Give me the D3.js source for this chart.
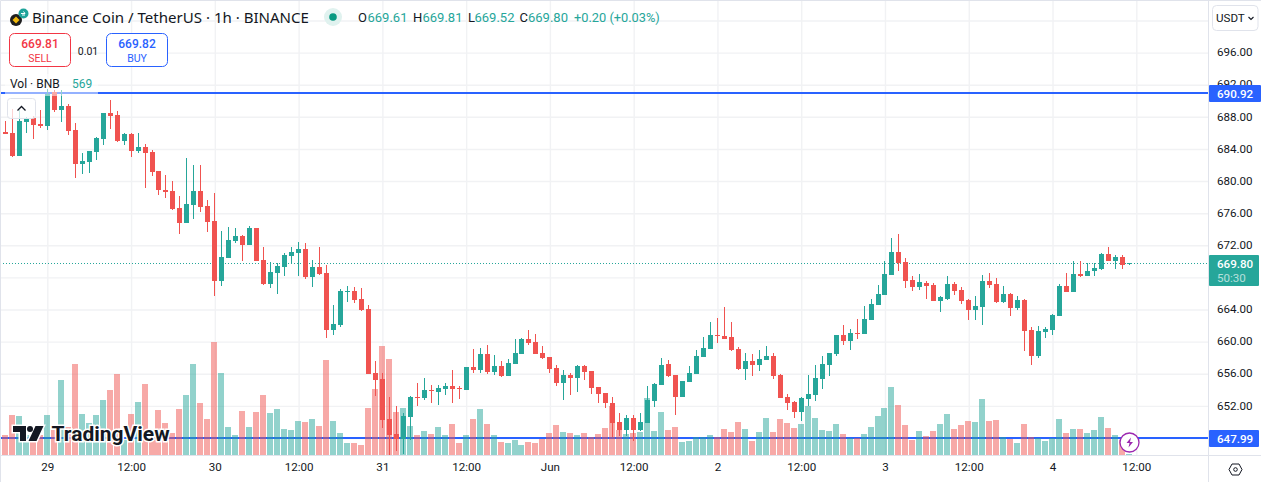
<!DOCTYPE html>
<html>
<head>
<meta charset="utf-8">
<script src="https://cdn.jsdelivr.net/npm/d3@7"></script>
<style>
  html, body { margin: 0; padding: 0; background: #fff; overflow: hidden; }
  svg { display: block; font-family: Roboto, "Noto Sans", sans-serif; }
  .axis .domain { display: none; }
  .axis text { fill: #131722; font-size: 11.6px; font-family: Roboto, "Noto Sans", sans-serif; }
  .grid .domain, .grid text { display: none; }
  .grid line { stroke: #f1f2f4; stroke-width: 1.4; }
</style>
</head>
<body>
<div id="chart"></div>
<script>
// hours counted from 29 May 00:00, one candle per hour
const hours = d3.range(-6, 156);

const open = [
  686.1, 686.0, 683.1, 687.4, 687.85, 687.1, 686.9, 691.1, 688.85, 689.35, 686.35, 682.1,
  682.35, 683.6, 685.25, 688.5, 688.2, 685.0, 685.85, 683.75, 684.25, 683.6, 681.25, 678.9,
  678.75, 676.65, 674.8, 677.0, 678.75, 676.9, 675.0, 667.55, 670.4, 672.55, 673.15, 672.05,
  674.15, 670.15, 667.2, 668.55, 669.3, 670.7, 671.05, 671.55, 668.05, 669.3, 668.55, 661.45,
  662.1, 666.2, 666.3, 665.3, 664.05, 656.1, 655.35, 650.4, 648.5, 647.9, 650.6, 653.1,
  653.0, 654.0, 653.75, 654.1, 654.5, 654.25, 654.0, 656.85, 656.45, 658.45, 656.25, 657.0,
  655.75, 657.2, 658.45, 660.35, 659.95, 658.6, 658.1, 656.75, 654.85, 655.85, 655.5, 657.0,
  656.35, 654.35, 653.6, 652.35, 650.0, 649.0, 650.5, 649.0, 649.9, 652.6, 654.6, 657.2,
  655.85, 653.1, 655.0, 655.95, 658.1, 659.1, 660.85, 660.7, 660.6, 659.1, 656.6, 657.6,
  657.1, 657.7, 658.2, 655.85, 653.1, 652.5, 651.25, 652.85, 653.35, 655.35, 657.1, 658.45,
  660.85, 660.1, 661.1, 660.95, 662.7, 664.55, 665.8, 668.3, 671.15, 669.9, 667.7, 666.8,
  667.3, 667.05, 665.05, 665.3, 667.2, 666.45, 665.2, 663.95, 664.3, 667.55, 667.2, 664.95,
  665.95, 664.2, 665.2, 661.45, 658.2, 661.2, 661.45, 663.2, 666.95, 666.2, 668.45, 668.2,
  668.8, 669.05, 670.9, 670.05, 670.55, 669.61
];
const high = [
  687.5, 689.0, 688.9, 688.0, 688.1, 688.85, 691.5, 691.4, 691.3, 689.6, 687.2, 683.5,
  683.75, 685.5, 688.5, 690.1, 688.7, 686.0, 686.0, 686.0, 684.6, 683.85, 681.25, 680.75,
  680.0, 678.1, 682.85, 682.0, 682.0, 677.65, 678.5, 673.8, 674.3, 674.15, 673.3, 674.4,
  674.15, 671.8, 669.9, 669.8, 671.05, 671.8, 672.4, 672.3, 670.15, 671.8, 669.55, 664.55,
  666.55, 666.95, 666.8, 666.7, 664.55, 657.6, 656.1, 653.1, 652.0, 651.1, 653.25, 654.85,
  655.5, 654.6, 654.6, 654.85, 656.45, 654.5, 656.85, 659.1, 659.2, 659.6, 658.35, 657.6,
  657.85, 660.35, 660.45, 661.45, 660.95, 659.45, 658.1, 657.1, 656.45, 656.1, 657.1, 657.1,
  656.35, 654.35, 653.6, 653.1, 651.1, 650.9, 650.9, 651.1, 654.5, 654.85, 658.0, 657.7,
  655.85, 655.1, 656.95, 658.95, 660.6, 662.45, 662.95, 664.3, 662.45, 659.35, 658.6, 658.45,
  658.95, 659.45, 658.6, 656.0, 653.5, 652.6, 653.1, 655.85, 657.1, 658.2, 658.6, 660.85,
  662.1, 661.6, 662.85, 664.45, 665.3, 667.05, 670.05, 672.9, 673.4, 670.4, 668.2, 668.45,
  667.55, 667.3, 665.7, 668.2, 667.45, 666.8, 665.3, 665.7, 668.3, 668.55, 667.95, 666.95,
  666.05, 665.7, 665.3, 661.85, 661.95, 661.85, 663.45, 667.2, 668.55, 670.05, 670.05, 669.8,
  669.8, 671.05, 671.8, 670.8, 670.8, 669.81
];
const low = [
  685.9, 683.0, 683.1, 686.0, 685.2, 686.6, 686.35, 688.6, 687.35, 685.7, 680.4, 680.85,
  681.0, 682.6, 684.5, 686.5, 684.85, 684.5, 683.0, 683.5, 679.1, 680.6, 678.25, 677.9,
  676.4, 673.4, 674.8, 675.3, 676.15, 673.65, 665.7, 666.95, 670.4, 672.3, 670.05, 672.05,
  670.05, 667.05, 666.7, 665.95, 668.2, 669.7, 668.2, 667.8, 666.8, 668.3, 660.45, 660.85,
  661.85, 664.95, 664.8, 663.8, 655.95, 653.2, 649.25, 645.8, 646.4, 646.0, 647.75, 652.0,
  652.75, 652.35, 652.1, 653.35, 652.35, 652.85, 654.0, 656.1, 656.1, 656.0, 655.85, 655.6,
  655.75, 657.2, 658.45, 659.6, 658.45, 657.85, 656.1, 654.5, 652.75, 653.35, 653.75, 655.25,
  653.5, 652.35, 651.75, 648.15, 648.25, 648.25, 647.65, 648.9, 649.9, 651.85, 654.6, 655.6,
  650.9, 653.1, 655.0, 655.95, 658.1, 659.1, 659.85, 660.35, 658.85, 656.45, 655.2, 655.75,
  656.35, 657.7, 655.35, 653.0, 651.5, 650.5, 650.1, 652.0, 652.6, 654.1, 655.75, 658.2,
  659.6, 659.0, 660.35, 660.95, 662.7, 664.55, 665.8, 668.3, 668.8, 666.7, 666.3, 666.45,
  665.3, 665.05, 663.7, 665.2, 665.8, 664.7, 662.7, 662.7, 662.1, 666.7, 664.8, 664.8,
  663.2, 663.95, 658.85, 657.1, 657.95, 660.45, 660.85, 663.2, 666.2, 666.2, 668.05, 668.2,
  668.2, 668.9, 670.05, 669.05, 669.05, 669.52
];
const close = [
  685.9, 683.1, 687.5, 687.7, 687.0, 686.9, 690.85, 688.85, 689.35, 686.25, 682.1, 682.5,
  683.75, 685.35, 688.5, 688.1, 685.0, 685.85, 683.75, 684.25, 683.5, 681.1, 678.9, 678.65,
  676.5, 674.8, 677.15, 678.75, 676.75, 674.9, 667.55, 670.55, 672.65, 673.15, 672.05, 674.15,
  670.05, 667.2, 668.7, 669.4, 670.8, 671.15, 671.55, 668.05, 669.3, 668.45, 661.45, 662.2,
  666.3, 666.3, 665.2, 663.95, 655.95, 655.2, 650.25, 648.4, 647.9, 650.75, 653.1, 653.0,
  654.0, 653.9, 654.25, 654.5, 654.1, 654.1, 656.85, 656.45, 658.45, 656.25, 657.0, 655.75,
  657.35, 658.6, 660.35, 659.85, 658.45, 657.95, 656.6, 654.85, 655.85, 655.5, 657.0, 656.25,
  654.25, 653.5, 652.35, 649.9, 649.0, 650.5, 649.0, 650.0, 652.75, 654.75, 657.1, 655.75,
  653.1, 655.1, 656.1, 658.2, 659.2, 660.85, 660.7, 660.35, 658.95, 656.6, 657.6, 657.1,
  657.85, 658.2, 655.75, 653.0, 652.35, 651.25, 653.0, 653.5, 655.5, 657.2, 658.6, 660.85,
  660.1, 661.1, 660.95, 662.85, 664.7, 665.95, 668.45, 671.15, 669.8, 667.55, 666.8, 667.45,
  666.95, 665.05, 665.55, 667.2, 666.3, 665.05, 663.95, 664.45, 667.55, 667.05, 664.95, 665.95,
  664.2, 665.2, 661.35, 658.2, 661.35, 661.6, 663.3, 666.95, 666.2, 668.45, 668.2, 668.8,
  669.2, 670.9, 670.05, 670.55, 669.55, 669.8
];
const volume = [
  8000, 16000, 15600, 8000, 6000, 8000, 16000, 10000, 30000, 11200, 36400, 16400,
  12800, 16000, 22000, 26000, 32400, 6000, 16400, 21200, 28400, 10000, 18000, 12800,
  8800, 18400, 24000, 36400, 20800, 14400, 45200, 32800, 11200, 8000, 17600, 11200,
  17200, 24000, 16800, 18400, 10400, 10000, 13600, 13200, 14400, 11600, 38000, 13600,
  8800, 4800, 4800, 4000, 18800, 26400, 43600, 38400, 17200, 18800, 11600, 8000,
  9600, 8400, 11200, 8000, 12400, 4800, 8000, 14400, 18400, 12400, 8000, 5200,
  4800, 6000, 4000, 5200, 4800, 6400, 8800, 12000, 9200, 8800, 8000, 8800,
  7200, 8400, 10800, 19600, 10000, 8400, 8800, 9200, 22800, 9600, 17200, 10000,
  11200, 5200, 5600, 7200, 7200, 8000, 7200, 10400, 9200, 13200, 10400, 5600,
  9200, 14800, 9200, 14400, 12800, 10800, 12400, 19600, 14800, 10000, 9600, 12400,
  8400, 6800, 6800, 8400, 11200, 15600, 18800, 27200, 20000, 12000, 6000, 9600,
  7600, 9600, 12400, 16400, 10400, 12000, 13600, 13200, 22400, 13600, 14000, 7200,
  6400, 4800, 12400, 7200, 6800, 5600, 6800, 14400, 8800, 10400, 10400, 8800,
  10000, 15200, 10800, 8000, 6000, 569
];

const priceTicks = [700, 696, 692, 688, 684, 680, 676, 672, 668, 664, 660, 656, 652, 648];
const priceLabels = [696, 692, 688, 684, 680, 676, 672, 664, 660, 656, 652];
const timeTicks = [0, 12, 24, 36, 48, 60, 72, 84, 96, 108, 120, 132, 144, 156];
const timeLabels = ['29', '12:00', '30', '12:00', '31', '12:00', 'Jun', '12:00', '2', '12:00', '3', '12:00', '4', '12:00'];

const lastClose = 669.80;
const upperLine = 690.92;
const lowerLine = 647.99;
const countdown = '50:30';
const legendLetters = ['O', 'H', 'L', 'C'];
const legendValues = ['669.61', '669.81', '669.52', '669.80'];

const UP = '#26a69a';
const DOWN = '#f05350';
const BLUE = '#2962ff';
const INK = '#131722';
const BORDER = '#e0e3eb';

const width = 1261;
const height = 482;
const plotRight = 1208;
const plotBottom = 455;

const x = d3.scaleLinear().domain([0, 156]).range([47.3, 1136.3]);
const y = d3.scaleLinear().domain([672, 652]).range([245.3, 405.9]);
const v = d3.scaleLinear().domain([0, 45200]).range([plotBottom, plotBottom - 113]);

// candles land on whole pixels so that wicks stay 1px sharp
const cx = d => Math.floor(x(d));
const py = p => Math.round(y(p));

const svg = d3.select('#chart').append('svg')
  .attr('width', width)
  .attr('height', height);

svg.append('defs').append('clipPath').attr('id', 'plot')
  .append('rect').attr('x', 1).attr('y', 1).attr('width', plotRight - 1).attr('height', plotBottom - 1);

// grid
svg.append('g').attr('class', 'grid')
  .call(d3.axisRight(y).tickValues(priceTicks).tickSize(plotRight));
svg.append('g').attr('class', 'grid')
  .call(d3.axisBottom(x).tickValues(timeTicks).tickSize(plotBottom));

const plot = svg.append('g').attr('clip-path', 'url(#plot)');

// the two horizontal levels sit under the volume bars
plot.selectAll('.level')
  .data([upperLine, lowerLine])
  .enter()
  .append('line')
  .attr('class', 'level')
  .attr('x1', 0)
  .attr('x2', plotRight)
  .attr('y1', d => py(d))
  .attr('y2', d => py(d))
  .attr('stroke', BLUE)
  .attr('stroke-width', 2);

// volume
plot.selectAll('.vol')
  .data(hours)
  .enter()
  .append('rect')
  .attr('class', 'vol')
  .attr('x', d => cx(d) - 3)
  .attr('width', 6)
  .attr('y', (d, i) => Math.round(v(volume[i])))
  .attr('height', (d, i) => plotBottom - Math.round(v(volume[i])))
  .attr('fill', (d, i) => close[i] >= open[i] ? UP : DOWN)
  .attr('opacity', 0.5);

// last price
plot.append('line')
  .attr('x1', 0)
  .attr('x2', plotRight)
  .attr('y1', py(lastClose) + 0.5)
  .attr('y2', py(lastClose) + 0.5)
  .attr('stroke', UP)
  .attr('stroke-dasharray', '1 2');

// candles
plot.selectAll('.wick')
  .data(hours)
  .enter()
  .append('line')
  .attr('class', 'wick')
  .attr('x1', d => cx(d) + 0.5)
  .attr('x2', d => cx(d) + 0.5)
  .attr('y1', (d, i) => py(high[i]))
  .attr('y2', (d, i) => py(low[i]))
  .attr('stroke', (d, i) => close[i] >= open[i] ? UP : DOWN);

plot.selectAll('.body')
  .data(hours)
  .enter()
  .append('rect')
  .attr('class', 'body')
  .attr('x', d => cx(d) - 2)
  .attr('width', 5)
  .attr('y', (d, i) => py(Math.max(open[i], close[i])))
  .attr('height', (d, i) => Math.max(1, Math.abs(py(open[i]) - py(close[i]))))
  .attr('fill', (d, i) => close[i] >= open[i] ? UP : DOWN);

// pane frame
svg.append('path')
  .attr('d', `M0.5 ${height}V0.5H${width}M${plotRight + 0.5} 0V${height}M0 ${plotBottom + 0.5}H${width}`)
  .attr('fill', 'none')
  .attr('stroke', BORDER);

// axes
svg.append('g').attr('class', 'axis')
  .attr('transform', `translate(${plotRight + 9},-0.5)`)
  .call(d3.axisRight(y).tickValues(priceLabels).tickSize(0).tickPadding(0).tickFormat(d3.format('.2f')));

const timeAxis = svg.append('g').attr('class', 'axis')
  .attr('transform', `translate(0,${plotBottom + 6})`)
  .call(d3.axisBottom(x).tickValues(timeTicks).tickSize(0).tickPadding(0)
    .tickFormat((d, i) => timeLabels[i]));
timeAxis.selectAll('text').attr('dy', '0.85em');

// price tags
function tag(price, top, h, w, fill) {
  svg.append('rect')
    .attr('x', plotRight + 1).attr('y', top)
    .attr('width', w).attr('height', h)
    .attr('rx', 1).attr('fill', fill);
  svg.append('text')
    .attr('x', plotRight + 9).attr('y', top + 12.5)
    .attr('fill', '#fff')
    .attr('font-size', 11.6)
    .attr('font-weight', 500)
    .text(price.toFixed(2));
}
tag(upperLine, 85, 17, 52, BLUE);
tag(lowerLine, 430, 17, 50, BLUE);
tag(lastClose, 255, 31, 50, UP);
svg.append('text')
  .attr('x', plotRight + 9).attr('y', 282)
  .attr('fill', '#fff').attr('opacity', 0.65)
  .attr('font-size', 11.6)
  .text(countdown);

// currency box
svg.append('rect')
  .attr('x', 1212.5).attr('y', 5.5).attr('width', 45.5).attr('height', 25)
  .attr('rx', 4).attr('fill', '#fff').attr('stroke', BORDER);
svg.append('text')
  .attr('x', 1216).attr('y', 22).attr('fill', INK).attr('font-size', 11.6).text('USDT');
svg.append('path')
  .attr('d', 'M1248.5 17l2.5 2.5 2.5-2.5')
  .attr('fill', 'none').attr('stroke', INK).attr('stroke-width', 1.1);

// settings hexagon
svg.append('path')
  .attr('d', 'M1229 469.5l3-5.5h7l3 5.5-3 5.5h-7z')
  .attr('fill', 'none').attr('stroke', INK);
svg.append('circle')
  .attr('cx', 1235.5).attr('cy', 469.5).attr('r', 1.8)
  .attr('fill', 'none').attr('stroke', INK);

// legend fade over the chart
svg.append('rect')
  .attr('x', 5).attr('y', 74).attr('width', 93).attr('height', 22)
  .attr('fill', '#fff').attr('opacity', 0.5);

// title row
svg.append('circle').attr('cx', 16).attr('cy', 20).attr('r', 6).attr('fill', '#1e1e1e');
svg.append('path').attr('d', 'M16 16.5l3.5 3.5-3.5 3.5-3.5-3.5z').attr('fill', '#f0b90b');
svg.append('circle').attr('cx', 23.5).attr('cy', 13.5).attr('r', 5).attr('fill', '#1fa39a');
svg.append('path').attr('d', 'M21 13.5h4l-1.5-2M25 15h-3').attr('fill', 'none').attr('stroke', '#fff');
svg.append('text')
  .attr('x', 32).attr('y', 22.5).attr('fill', INK)
  .attr('font-family', '"Noto Sans", sans-serif').attr('font-size', 15.05)
  .text('Binance Coin / TetherUS · 1h · BINANCE');

svg.append('circle').attr('cx', 333).attr('cy', 17).attr('r', 9).attr('fill', '#e0f2ef');
svg.append('circle').attr('cx', 333).attr('cy', 17).attr('r', 3.8).attr('fill', '#089981');

const letterX = [358, 413, 468, 519.5];
const valueX = [367.5, 422.5, 474.5, 528];
svg.selectAll('.leg-letter')
  .data(legendLetters)
  .enter()
  .append('text')
  .attr('class', 'leg-letter')
  .attr('x', (d, i) => letterX[i]).attr('y', 22)
  .attr('fill', INK).attr('font-size', 13)
  .text(d => d);
svg.selectAll('.leg-value')
  .data(legendValues)
  .enter()
  .append('text')
  .attr('class', 'leg-value')
  .attr('x', (d, i) => valueX[i]).attr('y', 22)
  .attr('fill', UP).attr('font-size', 13)
  .text(d => d);
svg.append('text')
  .attr('x', 574).attr('y', 22).attr('fill', UP).attr('font-size', 12.8)
  .text('+0.20 (+0.03%)');

// sell / buy boxes
function tradeBox(bx, price, label, color) {
  svg.append('rect')
    .attr('x', bx).attr('y', 33.5).attr('width', 61).attr('height', 33)
    .attr('rx', 5).attr('fill', '#fff').attr('stroke', color);
  svg.append('text')
    .attr('x', bx + 30.5).attr('y', 47.5).attr('text-anchor', 'middle')
    .attr('fill', color).attr('font-size', 12).attr('font-weight', 500).text(price);
  svg.append('text')
    .attr('x', bx + 30.5).attr('y', 62).attr('text-anchor', 'middle')
    .attr('fill', color).attr('font-size', 10.5).text(label);
}
tradeBox(9.5, '669.81', 'SELL', '#f23645');
tradeBox(106.5, '669.82', 'BUY', BLUE);
svg.append('text')
  .attr('x', 88).attr('y', 54.5).attr('text-anchor', 'middle')
  .attr('fill', INK).attr('font-size', 10.5).text('0.01');

// volume legend
svg.append('text')
  .attr('x', 10).attr('y', 88).attr('fill', INK).attr('font-size', 12).text('Vol · BNB');
svg.append('text')
  .attr('x', 72).attr('y', 88).attr('fill', UP).attr('font-size', 12).text(volume[volume.length - 1]);

// collapse button
svg.append('rect')
  .attr('x', 7.5).attr('y', 98.5).attr('width', 28).attr('height', 20)
  .attr('rx', 3).attr('fill', '#fff').attr('fill-opacity', 0.75).attr('stroke', BORDER);
svg.append('path')
  .attr('d', 'M17.5 110.5l4-4 4 4')
  .attr('fill', 'none').attr('stroke', INK).attr('stroke-width', 1.3);

// watermark
svg.append('path')
  .attr('d', 'M13 426h13v15h-6v-9h-7zM35.5 426h8l-7 15h-8z')
  .attr('fill', INK).attr('stroke', '#fff').attr('stroke-width', 3).attr('paint-order', 'stroke');
svg.append('circle')
  .attr('cx', 30).attr('cy', 429).attr('r', 3).attr('fill', INK);
svg.append('text')
  .attr('x', 51.5).attr('y', 441).attr('fill', INK)
  .attr('font-size', 21).attr('font-weight', 700)
  .attr('stroke', '#fff').attr('stroke-width', 3).attr('paint-order', 'stroke')
  .text('TradingView');

// replay badge
svg.append('circle')
  .attr('cx', 1129.5).attr('cy', 442.5).attr('r', 9.5)
  .attr('fill', '#fff').attr('stroke', '#9c27b0').attr('stroke-width', 1.3);
svg.append('path')
  .attr('d', 'M1131 437.5l-4.5 5.5h3l-1 4.5 4.5-5.5h-3z')
  .attr('fill', '#9c27b0');
</script>
</body>
</html>
